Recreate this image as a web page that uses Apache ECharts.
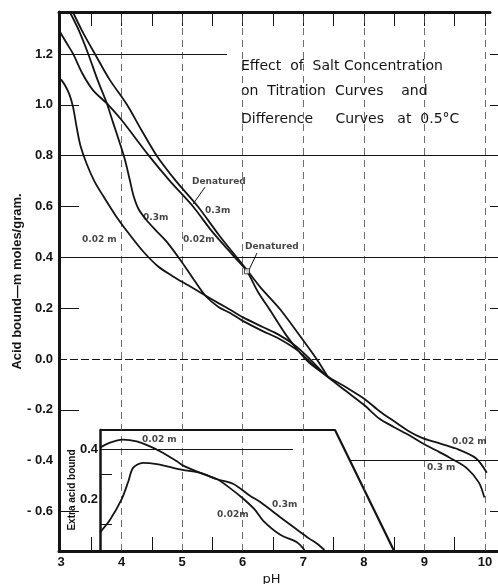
<!DOCTYPE html>
<html>
<head>
<meta charset="utf-8">
<script src="https://cdn.jsdelivr.net/npm/echarts@6/dist/echarts.min.js"></script>
<style>
  html, body { margin: 0; padding: 0; background: #fff; }
  #chart { width: 498px; height: 584px; }
</style>
</head>
<body>
<div id="chart"></div>
<script>
// ---- axis ticks and labels ----
const phLabels = [3, 4, 5, 6, 7, 8, 9, 10];
const phHalfTicks = [3.5, 4.5, 5.5, 6.5, 7.5, 8.5, 9.5];
const phTopTicks = [3.5, 4, 4.5, 5, 5.5, 6, 6.5, 7, 7.5, 8, 8.5, 9, 9.5, 10];
const phGridLines = [4, 5, 6, 7, 8, 9, 10];
const acidLabels = [-0.6, -0.4, -0.2, 0, 0.2, 0.4, 0.6, 0.8, 1.0, 1.2];
const acidShortTicks = [-0.6, -0.2, 0.2, 0.6, 1.0];
const acidRightTicks = [-0.6, -0.4, -0.2, 0, 0.2, 0.4, 0.6, 0.8, 1.0, 1.2];
const extraLabels = [0.2, 0.4];
const extraShortTicks = [0.1, 0.3];

// ---- titration curves: [pH, acid bound (m moles / gram)] ----
const nativeLow = [ // 0.02 m
  [3.0, 1.10], [3.07, 1.075], [3.14, 1.04], [3.2, 0.99], [3.26, 0.91], [3.32, 0.84],
  [3.42, 0.77], [3.55, 0.70], [3.7, 0.64], [3.9, 0.565], [4.1, 0.50], [4.35, 0.425],
  [4.6, 0.365], [4.85, 0.325], [5.1, 0.29], [5.35, 0.255], [5.6, 0.22], [5.8, 0.193],
  [6.0, 0.165], [6.33, 0.126], [6.6, 0.095], [6.9, 0.047], [7.15, -0.01], [7.4, -0.068],
  [7.7, -0.11], [8.0, -0.155], [8.26, -0.205], [8.5, -0.245], [8.75, -0.285], [8.96, -0.31],
  [9.2, -0.328], [9.52, -0.352], [9.85, -0.39], [10.03, -0.447]
];
const nativeHigh = [ // 0.3 m
  [3.15, 1.363], [3.3, 1.29], [3.45, 1.20], [3.6, 1.10], [3.75, 1.01], [3.86, 0.93],
  [3.97, 0.85], [4.06, 0.78], [4.14, 0.70], [4.2, 0.64], [4.28, 0.59], [4.4, 0.55],
  [4.55, 0.51], [4.75, 0.46], [5.0, 0.38], [5.2, 0.31], [5.4, 0.245], [5.6, 0.205],
  [5.8, 0.18], [6.0, 0.15], [6.33, 0.11], [6.6, 0.08], [6.9, 0.035], [7.15, -0.02],
  [7.4, -0.07], [7.7, -0.125], [8.0, -0.18], [8.26, -0.235], [8.5, -0.268], [8.75, -0.30],
  [8.96, -0.33], [9.2, -0.36], [9.41, -0.387], [9.69, -0.427], [9.9, -0.486], [9.99, -0.545]
];
const denaturedLow = [ // 0.02 m
  [2.967, 1.293], [3.1, 1.24], [3.2, 1.20], [3.36, 1.12], [3.53, 1.057], [3.78, 1.0],
  [4.0, 0.94], [4.45, 0.80], [4.8, 0.70], [5.18, 0.60], [5.5, 0.50], [5.87, 0.40],
  [6.07, 0.345], [6.25, 0.265], [6.45, 0.193], [6.7, 0.10], [6.91, 0.035], [7.1, -0.015],
  [7.4, -0.068]
];
const denaturedHigh = [ // 0.3 m
  [3.2, 1.363], [3.35, 1.29], [3.56, 1.20], [3.8, 1.10], [4.09, 1.0], [4.33, 0.90],
  [4.58, 0.80], [4.9, 0.70], [5.26, 0.60], [5.6, 0.49], [5.8, 0.43], [6.07, 0.35],
  [6.3, 0.28], [6.62, 0.195], [6.98, 0.08], [7.22, 0.0], [7.4, -0.068]
];

// ---- difference curves (extra acid bound) ----
const extraLow = [ // 0.02 m
  [3.644, 0.405], [3.81, 0.425], [4.02, 0.437], [4.25, 0.43], [4.47, 0.41], [4.68, 0.385],
  [4.92, 0.35], [5.01, 0.335], [5.3, 0.305], [5.58, 0.28], [5.79, 0.245], [6.0, 0.205],
  [6.2, 0.16], [6.34, 0.115], [6.62, 0.06], [6.9, 0.03], [7.02, 0.0]
];
const extraHigh = [ // 0.3 m
  [3.644, 0.07], [3.81, 0.12], [4.0, 0.20], [4.11, 0.27], [4.19, 0.325], [4.35, 0.345],
  [4.58, 0.34], [4.85, 0.325], [5.01, 0.317], [5.3, 0.305], [5.58, 0.28], [5.84, 0.262],
  [6.12, 0.215], [6.29, 0.19], [6.62, 0.13], [6.9, 0.08], [7.1, 0.045], [7.23, 0.025],
  [7.35, 0.0]
];

// ---- curve annotations: [text, pH, value] ----
const mainNotes = [
  ['0.02 m', 3.347, 0.468], ['0.3m', 4.354, 0.558], ['0.02m', 5.014, 0.468],
  ['Denatured', 5.163, 0.699], ['0.3m', 5.377, 0.585], ['Denatured', 6.038, 0.444],
  ['0.02 m', 9.455, -0.326], ['0.3 m', 9.043, -0.428]
];
const insetNotes = [
  ['0.02 m', 4.337, 0.437], ['0.02m', 5.576, 0.139], ['0.3m', 6.484, 0.179]
];
const leaderLines = [
  [[5.377, 0.676], [5.179, 0.609]],
  [[6.236, 0.417], [6.087, 0.342]]
];
const joinMark = [[6.07, 0.345]];

// ---- axis extents ----
const phMin = 2.967, phMax = 10.248, phTopMax = 10.083;
const acidMin = -0.755, acidMax = 1.365;
const insetPhMin = 3.644, insetPhMax = 7.524, insetSlantFoot = 8.5;
const extraMin = 0, extraMax = 0.475;
const insetTopAcid = -0.279;

// horizontal rules of the main panel: [value, from pH, to pH, dashed]
const acidRules = [
  [1.2, phMin, 5.74, false], [0.8, phMin, phMax, false], [0.4, phMin, phMax, false],
  [0.0, phMin, phMax, true], [-0.4, 7.77, phMax, false]
];
// horizontal rules of the inset: [value, from pH, to pH]
const extraRules = [[0.4, insetPhMin, 6.83], [0.2, insetPhMin, 8.07]];

const INK = '#141414';
const labelFont = { fontFamily: 'Liberation Sans', fontWeight: 'bold', fontSize: 13, color: INK };
const noteFont = { fontFamily: 'DejaVu Sans', fontWeight: 'bold', fontSize: 9, color: INK };
const fmtAcid = v => (v < -1e-9 ? '- ' + Math.abs(v).toFixed(1) : Math.abs(v).toFixed(1));

function curve(name, data, xi, yi) {
  return {
    name, type: 'line', data, xAxisIndex: xi, yAxisIndex: yi,
    showSymbol: false, smooth: 0.3, silent: true, z: 5,
    lineStyle: { color: INK, width: 1.8 }
  };
}

const chart = echarts.init(document.getElementById('chart'), null, { renderer: 'canvas' });

chart.setOption({
  backgroundColor: '#fff',
  animation: false,
  grid: [
    { left: 59, top: 12, width: 441, height: 539, outerBoundsMode: 'none' },
    { left: 100, top: 430, width: 235, height: 120, outerBoundsMode: 'none' },
    { left: 59, top: 12, width: 431, height: 539, outerBoundsMode: 'none' }
  ],
  xAxis: [
    {
      type: 'value', gridIndex: 0, min: phMin, max: phMax, position: 'bottom',
      name: 'pH', nameLocation: 'middle', nameGap: 22, nameMoveOverlap: false,
      nameTextStyle: { fontFamily: 'DejaVu Sans', fontSize: 13, color: INK, padding: [0, 16, 0, 0] },
      axisLine: { show: true, onZero: false, lineStyle: { color: INK, width: 3 } },
      axisTick: { show: true, inside: true, length: 14, customValues: phHalfTicks, lineStyle: { color: INK, width: 1 } },
      axisLabel: { show: true, margin: 5, customValues: phLabels, formatter: v => String(Math.round(v)), ...labelFont },
      splitLine: { show: false }
    },
    {
      type: 'value', gridIndex: 1, min: insetPhMin, max: insetPhMax, show: false
    },
    {
      type: 'value', gridIndex: 2, min: phMin, max: phTopMax, position: 'top',
      axisLine: { show: true, onZero: false, lineStyle: { color: INK, width: 3 } },
      axisTick: { show: true, inside: true, length: 14, customValues: phTopTicks, lineStyle: { color: INK, width: 1 } },
      axisLabel: { show: false },
      splitLine: { show: false }
    }
  ],
  yAxis: [
    {
      type: 'value', gridIndex: 0, min: acidMin, max: acidMax, position: 'left',
      name: 'Acid bound\u2014m moles/gram.', nameLocation: 'middle', nameGap: 35, nameMoveOverlap: false,
      nameTextStyle: { fontFamily: 'Liberation Sans', fontWeight: 'bold', fontSize: 13, color: INK },
      axisLine: { show: true, onZero: false, lineStyle: { color: INK, width: 3 } },
      axisTick: { show: true, inside: true, length: 20, customValues: acidShortTicks, lineStyle: { color: INK, width: 1 } },
      axisLabel: { show: true, margin: 6, customValues: acidLabels, formatter: fmtAcid, ...labelFont },
      splitLine: { show: false }
    },
    {
      type: 'value', gridIndex: 1, min: extraMin, max: extraMax, position: 'left',
      name: 'Extra acid bound', nameLocation: 'middle', nameGap: 23, nameMoveOverlap: false,
      nameTextStyle: { fontFamily: 'Liberation Sans', fontWeight: 'bold', fontSize: 10, color: INK },
      axisLine: { show: true, onZero: false, lineStyle: { color: INK, width: 2.5 } },
      axisTick: { show: true, inside: true, length: 12, customValues: extraShortTicks, lineStyle: { color: INK, width: 1 } },
      axisLabel: { show: true, margin: 2, customValues: extraLabels, formatter: v => v.toFixed(1), ...labelFont },
      splitLine: { show: false }
    },
    {
      type: 'value', gridIndex: 0, min: acidMin, max: acidMax, position: 'right',
      axisLine: { show: false },
      axisTick: { show: true, inside: true, length: 10, customValues: acidRightTicks, lineStyle: { color: INK, width: 1 } },
      axisLabel: { show: false },
      splitLine: { show: false }
    },
    {
      type: 'value', gridIndex: 2, min: acidMin, max: acidMax, show: false
    }
  ],
  series: [
    // reference rules and inset frame
    {
      name: 'frame', type: 'line', xAxisIndex: 0, yAxisIndex: 0, silent: true, z: 4,
      showSymbol: false,
      data: [[insetPhMin, insetTopAcid], [insetPhMax, insetTopAcid], [insetSlantFoot, acidMin]],
      lineStyle: { color: INK, width: 2.2 },
      markLine: {
        silent: true, symbol: ['none', 'none'], label: { show: false }, animation: false,
        data: [
          ...phGridLines.map(p => ({ xAxis: p, lineStyle: { color: '#4a4a4a', width: 0.8, type: [7, 5] } })),
          ...acidRules.map(r => [
            { coord: [r[1], r[0]], lineStyle: { color: INK, width: 1.1, type: r[3] ? [8, 3] : 'solid' } },
            { coord: [r[2], r[0]] }
          ]),
          ...leaderLines.map(l => [
            { coord: l[0], lineStyle: { color: INK, width: 1, type: 'solid' } },
            { coord: l[1] }
          ])
        ]
      }
    },
    {
      name: 'insetRules', type: 'line', xAxisIndex: 1, yAxisIndex: 1, silent: true, data: [],
      markLine: {
        silent: true, symbol: ['none', 'none'], label: { show: false }, animation: false,
        data: extraRules.map(r => [
          { coord: [r[1], r[0]], lineStyle: { color: INK, width: 1.1, type: 'solid' } },
          { coord: [r[2], r[0]] }
        ])
      }
    },
    curve('Native 0.02 m', nativeLow, 0, 0),
    curve('Native 0.3 m', nativeHigh, 0, 0),
    curve('Denatured 0.02 m', denaturedLow, 0, 0),
    curve('Denatured 0.3 m', denaturedHigh, 0, 0),
    curve('Extra 0.02 m', extraLow, 1, 1),
    curve('Extra 0.3 m', extraHigh, 1, 1),
    {
      name: 'join', type: 'scatter', xAxisIndex: 0, yAxisIndex: 0, silent: true, z: 6,
      data: joinMark, symbol: 'rect', symbolSize: 5,
      itemStyle: { color: '#fff', borderColor: INK, borderWidth: 1 }
    },
    {
      name: 'mainNotes', type: 'scatter', xAxisIndex: 0, yAxisIndex: 0, silent: true, z: 7,
      symbolSize: 0,
      data: mainNotes.map(n => ({ name: n[0], value: [n[1], n[2]] })),
      label: { show: true, position: 'right', distance: 0, formatter: p => p.name, ...noteFont }
    },
    {
      name: 'insetNotes', type: 'scatter', xAxisIndex: 1, yAxisIndex: 1, silent: true, z: 7,
      symbolSize: 0,
      data: insetNotes.map(n => ({ name: n[0], value: [n[1], n[2]] })),
      label: { show: true, position: 'right', distance: 0, formatter: p => p.name, ...noteFont }
    }
  ],
  graphic: [
    { type: 'text', left: 241, top: 59, style: { text: 'Effect  of  Salt Concentration', font: '14px "DejaVu Sans"', fill: INK } },
    { type: 'text', left: 241, top: 84, style: { text: 'on  Titration  Curves    and', font: '14px "DejaVu Sans"', fill: INK } },
    { type: 'text', left: 241, top: 112, style: { text: 'Difference     Curves   at  0.5\u00b0C', font: '14px "DejaVu Sans"', fill: INK } }
  ]
});
</script>
</body>
</html>
